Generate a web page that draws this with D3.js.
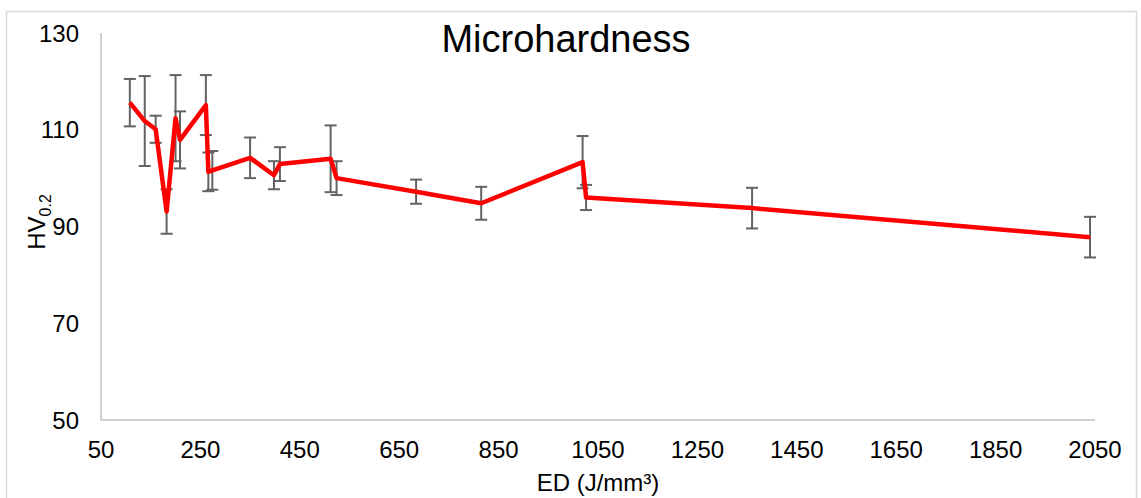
<!DOCTYPE html>
<html>
<head>
<meta charset="utf-8">
<script src="https://cdn.jsdelivr.net/npm/d3@7"></script>
<style>
  body { margin: 0; background: #fff; }
  text { font-family: "Liberation Sans", Arial, sans-serif; fill: #000; }
</style>
</head>
<body>
<div id="chart-container"></div>
<script>
// data
const ed = [108, 138, 160, 182, 200, 209, 261, 266, 274, 350, 398, 410, 512, 524, 684, 815, 1019, 1026, 1360, 2040];
const hv = [115.6, 111.8, 110.1, 93.1, 112.4, 107.9, 115.1, 101.3, 101.6, 104.2, 100.6, 102.9, 104.0, 100.0, 97.2, 94.8, 103.3, 96.0, 93.8, 87.8];
const hvErr = [4.9, 9.3, 2.8, 4.6, 8.9, 5.9, 6.2, 4.0, 4.0, 4.2, 2.9, 3.5, 6.9, 3.5, 2.5, 3.4, 5.4, 2.6, 4.2, 4.2];
const xTicks = [50, 250, 450, 650, 850, 1050, 1250, 1450, 1650, 1850, 2050];
const yTicks = [50, 70, 90, 110, 130];

const W = 1141, H = 498;
const margin = {top: 33, right: 46, bottom: 78, left: 101};
const width = W - margin.left - margin.right;
const height = H - margin.top - margin.bottom;

const data = ed.map((x, i) => ({x: x, y: hv[i], e: hvErr[i]}));

const root = d3.select('#chart-container')
  .append('svg')
    .attr('width', W)
    .attr('height', H);

// outer chart border
root.append('rect')
  .attr('x', 6.5).attr('y', 11.5)
  .attr('width', 1130).attr('height', 520)
  .attr('fill', 'none')
  .attr('stroke', '#d9d9d9')
  .attr('stroke-width', 1.5);

const svg = root.append('g')
  .attr('transform', `translate(${margin.left}, ${margin.top})`);

const xScale = d3.scaleLinear().domain([50, 2050]).range([0, width]);
const yScale = d3.scaleLinear().domain([50, 130]).range([height, 0]);

// axes lines
svg.append('line')
  .attr('x1', 0).attr('x2', 0).attr('y1', 0).attr('y2', height)
  .attr('stroke', '#bfbfbf').attr('stroke-width', 1.5);
svg.append('line')
  .attr('x1', 0).attr('x2', width).attr('y1', height).attr('y2', height)
  .attr('stroke', '#bfbfbf').attr('stroke-width', 1.5);

// tick labels
svg.selectAll('.xtick')
  .data(xTicks)
  .join('text')
    .attr('class', 'xtick')
    .attr('x', d => xScale(d))
    .attr('y', height + 38)
    .attr('text-anchor', 'middle')
    .style('font-size', '24px')
    .text(d => d);

svg.selectAll('.ytick')
  .data(yTicks)
  .join('text')
    .attr('class', 'ytick')
    .attr('x', -22)
    .attr('y', d => yScale(d))
    .attr('dy', '0.36em')
    .attr('text-anchor', 'end')
    .style('font-size', '24px')
    .text(d => d);

// error bars
const bars = svg.selectAll('.err')
  .data(data)
  .join('g')
    .attr('class', 'err')
    .attr('stroke', '#636363')
    .attr('stroke-width', 2);
bars.append('line')
  .attr('x1', d => xScale(d.x)).attr('x2', d => xScale(d.x))
  .attr('y1', d => yScale(d.y + d.e)).attr('y2', d => yScale(d.y - d.e));
bars.append('line')
  .attr('x1', d => xScale(d.x) - 6).attr('x2', d => xScale(d.x) + 6)
  .attr('y1', d => yScale(d.y + d.e)).attr('y2', d => yScale(d.y + d.e));
bars.append('line')
  .attr('x1', d => xScale(d.x) - 6).attr('x2', d => xScale(d.x) + 6)
  .attr('y1', d => yScale(d.y - d.e)).attr('y2', d => yScale(d.y - d.e));

// the red line
const line = d3.line()
  .x(d => xScale(d.x))
  .y(d => yScale(d.y));
svg.append('path')
  .datum(data)
  .attr('d', line)
  .attr('fill', 'none')
  .attr('stroke', '#ff0000')
  .attr('stroke-width', 4.5)
  .attr('stroke-linejoin', 'round');

// title
root.append('text')
  .attr('x', 566)
  .attr('y', 52)
  .attr('text-anchor', 'middle')
  .style('font-size', '38px')
  .text('Microhardness');

// x axis label
root.append('text')
  .attr('x', margin.left + width / 2)
  .attr('y', 491)
  .attr('text-anchor', 'middle')
  .style('font-size', '24px')
  .text('ED (J/mm³)');

// y axis label
const yl = root.append('text')
  .attr('transform', 'translate(45, 222) rotate(-90)')
  .attr('text-anchor', 'middle')
  .style('font-size', '24px');
yl.append('tspan').text('HV');
yl.append('tspan')
  .attr('dy', 6)
  .style('font-size', '16px')
  .text('0.2');
</script>
</body>
</html>
